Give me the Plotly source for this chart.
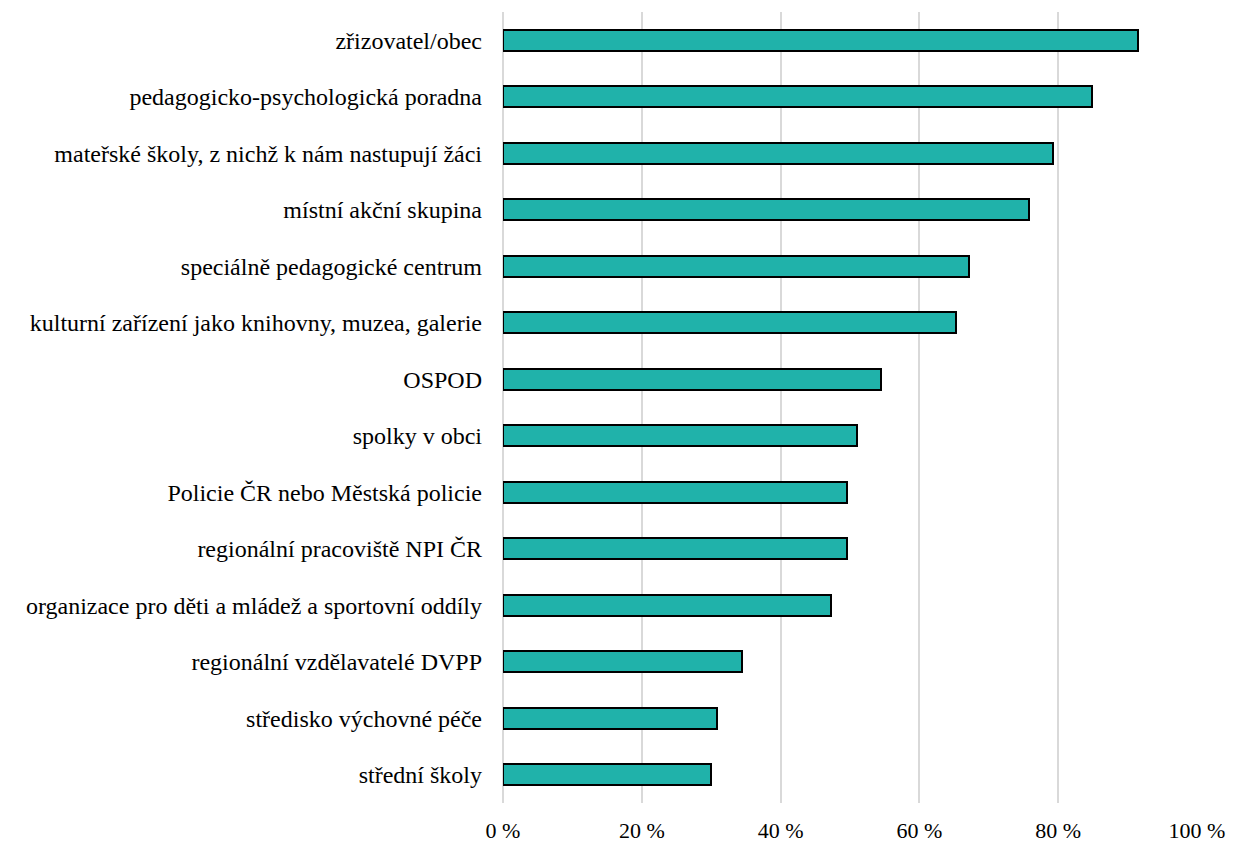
import plotly.graph_objects as go

categories = [
    'zřizovatel/obec',
    'pedagogicko-psychologická poradna',
    'mateřské školy, z nichž k nám nastupují žáci',
    'místní akční skupina',
    'speciálně pedagogické centrum',
    'kulturní zařízení jako knihovny, muzea, galerie',
    'OSPOD',
    'spolky v obci',
    'Policie ČR nebo Městská policie',
    'regionální pracoviště NPI ČR',
    'organizace pro děti a mládež a sportovní oddíly',
    'regionální vzdělavatelé DVPP',
    'středisko výchovné péče',
    'střední školy',
]
values = [91.5, 84.9, 79.2, 75.8, 67.2, 65.3, 54.4, 51.0, 49.6, 49.6, 47.2, 34.4, 30.9, 30.0]
x_ticks = [0, 20, 40, 60, 80, 100]
x_labels = ['0 %', '20 %', '40 %', '60 %', '80 %', '100 %']

fig = go.Figure(go.Bar(
    x=values,
    y=categories,
    orientation='h',
    width=0.38,
    marker=dict(color='#20B2AA', line=dict(color='black', width=2)),
))

# page body has an 8px margin, so offsets are shifted accordingly
fig.update_layout(
    width=1258,
    height=862,
    margin=dict(t=4, l=495, r=69, b=67),
    plot_bgcolor='white',
    paper_bgcolor='white',
    font=dict(family='Liberation Serif', size=24, color='black'),
    showlegend=False,
    bargap=0,
)
fig.update_xaxes(
    range=[0, 100],
    tickvals=x_ticks,
    ticktext=x_labels,
    tickfont=dict(size=22),
    showgrid=True,
    gridcolor='#d9d9d9',
    gridwidth=2,
    zeroline=True,
    zerolinecolor='#d9d9d9',
    zerolinewidth=2,
    showline=False,
    ticklabelstandoff=12,
)
fig.update_yaxes(
    autorange='reversed',
    showgrid=False,
    showline=False,
    ticklabelstandoff=20,
)

fig.write_html("out.html")
